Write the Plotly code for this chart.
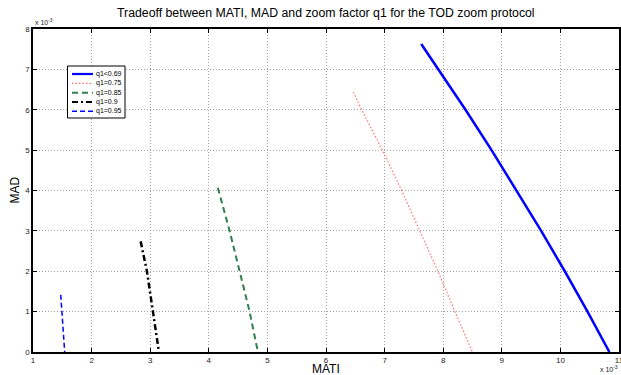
import plotly.graph_objects as go

# ---- data (MATI and MAD in units of 1e-3) ----
names = ["q1<0.69", "q1=0.75", "q1=0.85", "q1=0.9", "q1=0.95"]

mati_069 = [7.625, 7.801, 8.033, 8.375, 8.817, 9.245, 9.672, 10.075, 10.463, 10.836]
mad_069 = [7.627, 7.255, 6.758, 6.012, 5.019, 4.025, 3.0, 2.0, 1.0, 0.0]

mati_075 = [6.468, 6.605, 6.963, 7.29, 7.60, 7.91, 8.20, 8.499]
mad_075 = [6.435, 6.01, 5.0, 4.0, 3.0, 2.0, 1.0, 0.0]

mati_085 = [4.155, 4.355, 4.526, 4.696, 4.838]
mad_085 = [4.067, 3.0, 2.0, 1.0, 0.0]

mati_09 = [2.837, 2.944, 3.047, 3.149]
mad_09 = [2.74, 2.0, 1.0, 0.0]

mati_095 = [1.473, 1.495, 1.541]
mad_095 = [1.416, 1.0, 0.0]

x_ticks = [1, 2, 3, 4, 5, 6, 7, 8, 9, 10, 11]
y_ticks = [0, 1, 2, 3, 4, 5, 6, 7, 8]

title_text = "Tradeoff between MATI, MAD and zoom factor q1 for the TOD zoom protocol"

FONT = "Arial, Liberation Sans, Helvetica, sans-serif"

colors = ["#0000ff", "#ff7070", "#2e8050", "#000000", "#0000ff"]
dashes = ["solid", "1.5px,2px", "6px,4px", "6px,3px,2px,3px", "5px,3px"]
widths = [2.5, 1.2, 2.0, 2.5, 1.5]
xs_all = [mati_069, mati_075, mati_085, mati_09, mati_095]
ys_all = [mad_069, mad_075, mad_085, mad_09, mad_095]

W, H = 621, 375
ML, MR, MT, MB = 33, 2, 29, 23
PW, PH = W - ML - MR, H - MT - MB

fig = go.Figure()
for xs, ys, col, dash, w, nm in zip(xs_all, ys_all, colors, dashes, widths, names):
    fig.add_trace(go.Scatter(x=xs, y=ys, mode="lines", name=nm,
                             line=dict(color=col, dash=dash, width=w)))

axis_common = dict(
    showline=True, linecolor="black", linewidth=1.5, mirror="ticks",
    ticks="inside", ticklen=4, tickcolor="black", tickwidth=1,
    showgrid=True, gridcolor="#a0a0a0", griddash="1px,2px", gridwidth=1,
    zeroline=False, tickfont=dict(family=FONT, size=8, color="#222"),
    automargin=False, ticklabeloverflow="allow",
)

fig.update_xaxes(range=[1, 11], tickvals=x_ticks, ticktext=[str(v) for v in x_ticks], **axis_common)
fig.update_yaxes(range=[0, 8], tickvals=y_ticks, ticktext=[str(v) for v in y_ticks], **axis_common)


# --- compact MATLAB-style legend box (layout decoration, paper coords) ---
def px2x(px):
    return (px - ML) / PW


def py2y(py):
    return (MT + PH - py) / PH


shapes = [dict(type="rect", xref="paper", yref="paper",
               x0=px2x(67.5), x1=px2x(125), y0=py2y(118), y1=py2y(66),
               line=dict(color="black", width=1), fillcolor="white", layer="above")]
annotations = []
for i, (nm, col, dash, w) in enumerate(zip(names, colors, dashes, widths)):
    yc = py2y(74 + i * 9.33)
    shapes.append(dict(type="line", xref="paper", yref="paper",
                       x0=px2x(72), x1=px2x(93), y0=yc, y1=yc,
                       line=dict(color=col, dash=dash, width=min(w, 2.2)), layer="above"))
    annotations.append(dict(text=nm, x=px2x(94), y=yc, xref="paper", yref="paper",
                            xanchor="left", yanchor="middle", showarrow=False,
                            font=dict(family=FONT, size=7, color="black")))

annotations += [
    dict(text=title_text, x=0.5, y=1, xref="paper", yref="paper",
         xanchor="center", yanchor="bottom", yshift=7, showarrow=False,
         font=dict(family=FONT, size=12.3, color="black")),
    dict(text="MATI", x=0.5, y=0, xref="paper", yref="paper",
         xanchor="center", yanchor="top", yshift=-8, showarrow=False,
         font=dict(family=FONT, size=12, color="black")),
    dict(text="MAD", x=0, y=0.5, xref="paper", yref="paper",
         xanchor="center", yanchor="middle", xshift=-19, textangle=-90,
         showarrow=False, font=dict(family=FONT, size=12, color="black")),
    dict(text="x 10<sup>-3</sup>", x=0, y=1, xref="paper", yref="paper",
         xanchor="left", yanchor="bottom", xshift=0, yshift=1, showarrow=False,
         font=dict(family=FONT, size=7, color="#222")),
    dict(text="x 10<sup>-3</sup>", x=1, y=0, xref="paper", yref="paper",
         xanchor="right", yanchor="top", xshift=1, yshift=-11, showarrow=False,
         font=dict(family=FONT, size=7, color="#222")),
]

fig.update_layout(
    width=W, height=H,
    margin=dict(l=ML, r=MR, t=MT, b=MB),
    paper_bgcolor="white", plot_bgcolor="white",
    showlegend=False,
    shapes=shapes,
    annotations=annotations,
)

fig.write_html("out.html", config={"displayModeBar": False},
               post_script="document.body.style.margin='0';document.body.style.padding='0';")
